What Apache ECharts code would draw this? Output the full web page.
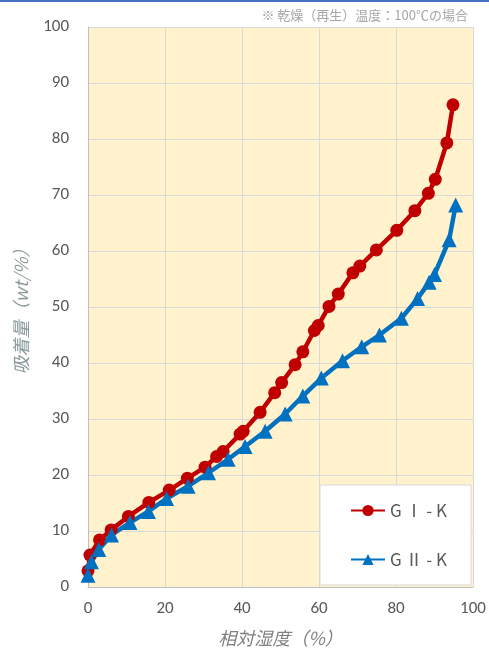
<!DOCTYPE html>
<html>
<head>
<meta charset="utf-8">
<script src="https://cdn.jsdelivr.net/npm/echarts@6/dist/echarts.min.js"></script>
<style>
  html, body { margin: 0; padding: 0; background: #fff; }
  #chart { width: 489px; height: 655px; }
</style>
</head>
<body>
<div id="chart"></div>
<script>
// 相対湿度 (%) / 吸着量 (wt/%)
const g1X = [0, 0.5, 3, 6, 10.5, 15.8, 21.1, 25.8, 30.4, 33.4, 35.1, 39.5, 40.3, 44.7, 48.5, 50.3,
  53.8, 55.8, 58.8, 59.8, 62.6, 65, 68.8, 70.6, 74.9, 80.2, 84.9, 88.4, 90.2, 93.2, 94.8];
const g1Y = [2.9, 5.7, 8.4, 10.2, 12.6, 15.1, 17.3, 19.4, 21.4, 23.3, 24.2, 27.3, 27.8, 31.2, 34.7, 36.5,
  39.7, 42, 45.8, 46.7, 50.1, 52.3, 56.1, 57.3, 60.2, 63.7, 67.2, 70.3, 72.8, 79.3, 86.1];
const g2X = [0, 0.9, 2.8, 6.1, 10.9, 15.7, 20.4, 26, 31.3, 36.4, 40.8, 46, 51.2, 55.8, 60.6,
  66.1, 71.1, 75.7, 81.4, 85.6, 88.6, 90, 93.8, 95.5];
const g2Y = [2.1, 4.5, 6.7, 9.3, 11.5, 13.5, 15.8, 18, 20.4, 22.8, 25.1, 27.8, 30.9, 34.1, 37.3,
  40.4, 42.9, 45, 48, 51.5, 54.4, 55.8, 62, 68.2];
const names = ['G Ⅰ - K', 'G Ⅱ - K'];
const note = '※ 乾燥（再生）温度：100℃の場合';

const chart = echarts.init(document.getElementById('chart'));
const font = 'Calibri, Carlito, "Liberation Sans", "Noto Sans CJK JP", sans-serif';
const jp = '"Noto Sans CJK JP", sans-serif';

chart.setOption({
  animation: false,
  textStyle: { fontFamily: font },
  grid: {
    left: 88, right: 16, top: 27, bottom: 68,
    show: true, backgroundColor: '#FFF2CC', borderWidth: 0
  },
  graphic: [
    { type: 'rect', left: 0, top: 0, shape: { width: 489, height: 2 }, style: { fill: '#4472C4' } },
    {
      type: 'text', right: 21, top: 9,
      style: { text: note, fill: '#a6a6a6', font: '13px ' + jp }
    }
  ],
  legend: {
    left: 320, top: 485, orient: 'vertical',
    backgroundColor: '#fff', borderColor: '#d9d9d9', borderWidth: 1,
    padding: [17, 24, 17, 30], itemGap: 32, itemWidth: 34, itemHeight: 14,
    textStyle: { color: '#595959', fontSize: 17, fontFamily: jp },
    data: names
  },
  xAxis: {
    type: 'value', min: 0, max: 100, interval: 20,
    name: '相対湿度（%）', nameLocation: 'middle', nameGap: 42,
    nameTextStyle: { color: '#808080', fontSize: 18, fontStyle: 'italic', fontFamily: jp },
    axisLine: { lineStyle: { color: '#bfbfbf' } },
    axisTick: { show: false },
    axisLabel: { color: '#595959', fontSize: 17, margin: 13 },
    splitLine: { lineStyle: { color: '#d9d9d9' } }
  },
  yAxis: {
    type: 'value', min: 0, max: 100, interval: 10,
    name: '吸着量（wt/%）', nameLocation: 'middle', nameGap: 58,
    nameTextStyle: { color: '#8a9a9a', fontSize: 18, fontStyle: 'italic', fontFamily: jp },
    axisLine: { show: true, lineStyle: { color: '#bfbfbf' } },
    axisTick: { show: false },
    axisLabel: { color: '#595959', fontSize: 17, margin: 19 },
    splitLine: { lineStyle: { color: '#d9d9d9' } }
  },
  series: [
    {
      name: names[0], type: 'line',
      data: g1X.map((x, i) => [x, g1Y[i]]),
      symbol: 'circle', symbolSize: 13,
      lineStyle: { color: '#C00000', width: 4.5 },
      itemStyle: { color: '#C00000' }
    },
    {
      name: names[1], type: 'line',
      data: g2X.map((x, i) => [x, g2Y[i]]),
      symbol: 'triangle', symbolSize: 15,
      lineStyle: { color: '#0070C0', width: 4.5 },
      itemStyle: { color: '#0070C0' }
    }
  ]
});
</script>
</body>
</html>
